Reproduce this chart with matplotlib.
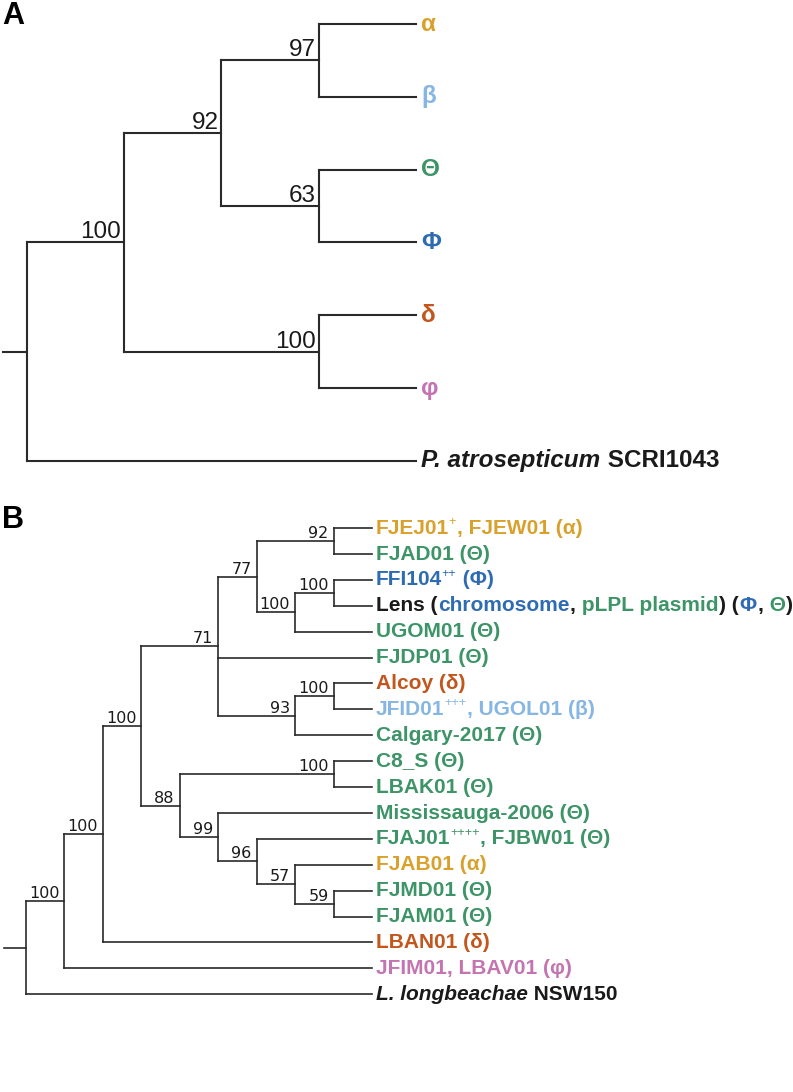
import matplotlib
matplotlib.use("Agg")
import matplotlib.pyplot as plt
from matplotlib import transforms

# ============================================================
# 0. Data: tree topologies (Newick, bootstrap values) and tip labels
# ============================================================
TREE_A = "((((0,1)97,(2,3)63)92,(4,5)100)100,6)"
TREE_B = ("(((((((0,1)92,((2,3)100,4)100)77,5,((6,7)100,8)93)71,"
          "((9,10)100,(11,(12,(13,(14,15)59)57)96)99)88)100,16)100,17)100,18)")

# tip labels: list of (text, clade) pieces; "^" = superscript, "*" = italic
TIPS_A = [
    [("α", "α")],
    [("β", "β")],
    [("Θ", "Θ")],
    [("Φ", "Φ")],
    [("δ", "δ")],
    [("φ", "φ")],
    [("*P. atrosepticum", None), (" SCRI1043", None)],
]

TIPS_B = [
    [("FJEJ01", "α"), ("^+", "α"), (", FJEW01 (α)", "α")],
    [("FJAD01 (Θ)", "Θ")],
    [("FFI104", "Φ"), ("^++", "Φ"), (" (Φ)", "Φ")],
    [("Lens (", None), ("chromosome", "Φ"), (",", None), (" pLPL plasmid", "Θ"),
     (") (", None), ("Φ", "Φ"), (",", None), (" Θ", "Θ"), (")", None)],
    [("UGOM01 (Θ)", "Θ")],
    [("FJDP01 (Θ)", "Θ")],
    [("Alcoy (δ)", "δ")],
    [("JFID01", "β"), ("^+++", "β"), (", UGOL01 (β)", "β")],
    [("Calgary-2017 (Θ)", "Θ")],
    [("C8_S (Θ)", "Θ")],
    [("LBAK01 (Θ)", "Θ")],
    [("Mississauga-2006 (Θ)", "Θ")],
    [("FJAJ01", "Θ"), ("^++++", "Θ"), (", FJBW01 (Θ)", "Θ")],
    [("FJAB01 (α)", "α")],
    [("FJMD01 (Θ)", "Θ")],
    [("FJAM01 (Θ)", "Θ")],
    [("LBAN01 (δ)", "δ")],
    [("JFIM01, LBAV01 (φ)", "φ")],
    [("*L. longbeachae", None), (" NSW150", None)],
]

CLADE_COLORS = {
    "α": "#d9a12b",
    "β": "#86b6e4",
    "Θ": "#3d9467",
    "Φ": "#2f6bb3",
    "δ": "#c2561d",
    "φ": "#c474b0",
    None: "#1a1a1a",
}

LINE_COLOR = "#2a2a2a"
FONT = "Liberation Sans"
plt.rcParams["font.family"] = [FONT, "DejaVu Sans"]

W, H, DPI = 793, 1092, 100


# ============================================================
# 1. Newick parsing + cladogram layout
# ============================================================
def parse_newick(s):
    pos = 0

    def read_label():
        nonlocal pos
        start = pos
        while pos < len(s) and s[pos] not in ",()":
            pos += 1
        return s[start:pos]

    def node():
        nonlocal pos
        if s[pos] == "(":
            pos += 1
            kids = [node()]
            while s[pos] == ",":
                pos += 1
                kids.append(node())
            pos += 1
            lab = read_label()
            return {"children": kids, "support": lab or None}
        return {"tip": int(read_label())}

    return node()


def layout(nd):
    if "tip" in nd:
        nd["h"], nd["y"] = 0, nd["tip"]
        return
    for c in nd["children"]:
        layout(c)
    nd["h"] = max(c["h"] for c in nd["children"]) + 1
    nd["y"] = (nd["children"][0]["y"] + nd["children"][-1]["y"]) / 2


def draw_tree(ax, root, lw, support_size, sup_dx, sup_dy, stub, sup_font):
    def walk(nd, is_root=False):
        if "tip" in nd:
            return
        x = -nd["h"]
        ys = [c["y"] for c in nd["children"]]
        ax.plot([x, x], [min(ys), max(ys)], color=LINE_COLOR, lw=lw,
                solid_capstyle="projecting")
        for c in nd["children"]:
            ax.plot([x, -c["h"]], [c["y"], c["y"]], color=LINE_COLOR, lw=lw,
                    solid_capstyle="projecting")
            walk(c)
        if not is_root and nd["support"]:
            ax.text(x, nd["y"], nd["support"], fontsize=support_size,
                    family=sup_font, ha="right", va="baseline",
                    color="#1a1a1a",
                    transform=transforms.offset_copy(ax.transData, x=sup_dx,
                                                     y=sup_dy, units="dots"))

    walk(root, True)
    ax.plot([-root["h"] - stub, -root["h"]], [root["y"], root["y"]],
            color=LINE_COLOR, lw=lw, solid_capstyle="projecting")


def draw_tip_labels(ax, tips, size, gap):
    renderer = ax.figure.canvas.get_renderer()
    for i, parts in enumerate(tips):
        dx = gap
        base_dy = -0.27 * size * DPI / 72
        for text, clade in parts:
            style, weight, fs, dy = "normal", "bold", size, base_dy
            pad = 0.5
            if text.startswith("^"):
                text = text[1:]
                fs = size * 0.6
                weight = "normal"
                dy = base_dy + 0.42 * size * DPI / 72
                dx -= 1
            elif text.startswith("*"):
                text = text[1:]
                style = "italic"
            t = ax.text(0, i, text, fontsize=fs, fontweight=weight,
                        fontstyle=style, color=CLADE_COLORS[clade],
                        ha="left", va="baseline",
                        transform=transforms.offset_copy(ax.transData, x=dx,
                                                         y=dy, units="dots"))
            dx += t.get_window_extent(renderer).width + pad


def make_axes(fig, top_px, bot_px, tip_x, step_x, y0, step_y):
    ax = fig.add_axes([0, 1 - bot_px / H, 1, (bot_px - top_px) / H])
    ax.set_xlim(-tip_x / step_x, (W - tip_x) / step_x)
    ax.set_ylim((bot_px - y0) / step_y, (top_px - y0) / step_y)
    ax.axis("off")
    return ax


# ============================================================
# 2. Figure
# ============================================================
fig = plt.figure(figsize=(W / DPI, H / DPI), dpi=DPI)

# --- Panel A
tree_a = parse_newick(TREE_A)
layout(tree_a)
ax_a = make_axes(fig, 0, 500, tip_x=416, step_x=97.25, y0=24, step_y=72.8)
draw_tree(ax_a, tree_a, lw=1.5, support_size=17.5, sup_dx=-3, sup_dy=4,
          stub=24 / 97.25, sup_font=[FONT, "DejaVu Sans"])
draw_tip_labels(ax_a, TIPS_A, size=17.5, gap=5)

# --- Panel B
tree_b = parse_newick(TREE_B)
layout(tree_b)
ax_b = make_axes(fig, 500, H, tip_x=372, step_x=38.44, y0=528, step_y=25.9)
draw_tree(ax_b, tree_b, lw=1.2, support_size=11.5, sup_dx=-5, sup_dy=3,
          stub=22 / 38.44, sup_font=["DejaVu Sans"])
draw_tip_labels(ax_b, TIPS_B, size=15, gap=4)

fig.text(2 / W, 1 - 1 / H, "A", fontsize=22, fontweight="bold",
         ha="left", va="top")
fig.text(2 / W, 1 - 505 / H, "B", fontsize=22, fontweight="bold",
         ha="left", va="top")

fig.savefig("out.png", dpi=DPI)
